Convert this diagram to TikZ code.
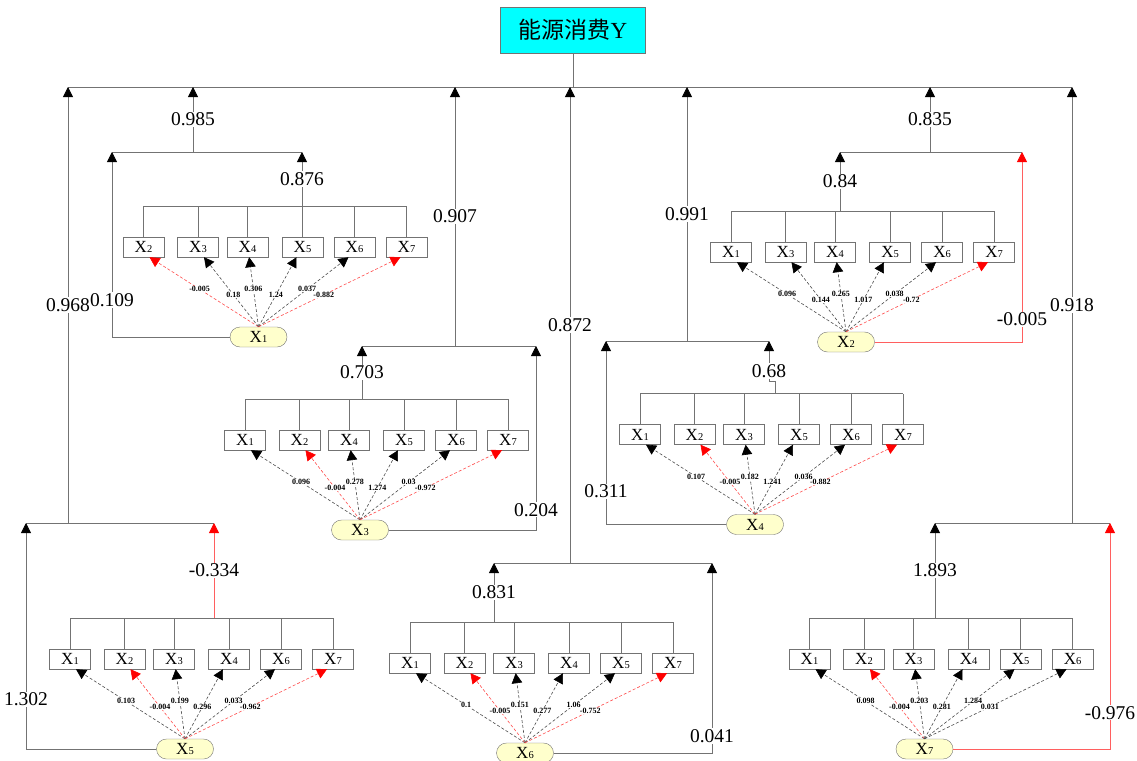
\documentclass[tikz,border=0pt]{standalone}
\usepackage{fontspec}
\setmainfont{Liberation Serif}
\newfontfamily\cjk{Noto Sans CJK SC}
\usetikzlibrary{arrows.meta,shapes.misc}
\definecolor{linegray}{RGB}{115,115,115}
\definecolor{paleyellow}{RGB}{255,255,204}
\definecolor{softred}{RGB}{255,95,95}
\definecolor{aqua}{RGB}{0,255,255}
\newcommand\xv[1]{X{\fontsize{10.5}{10.5}\selectfont #1}}
\tikzset{
  link/.style={draw=linegray, line width=0.8pt},
  feedback/.style={draw=softred, line width=0.8pt},
  arrowup/.style={-{Triangle[length=10pt,width=10pt,color=black]}},
  redarrowup/.style={-{Triangle[length=10pt,width=10pt,color=red]}},
  effect/.style={draw=#1!70, line width=0.6pt, dash pattern=on 3pt off 2pt,
    -{Triangle[length=10pt,width=10.5pt,color=#1]}},
  var/.style={draw=linegray, fill=white, minimum width=41pt, minimum height=20pt,
    inner sep=0pt, font=\fontsize{17}{17}\selectfont},
  src/.style={rounded rectangle, draw=linegray, fill=paleyellow, minimum width=57pt,
    minimum height=20pt, inner sep=0pt, font=\fontsize{17}{17}\selectfont},
  target/.style={draw=linegray, fill=aqua, minimum width=145pt, minimum height=46pt,
    inner sep=0pt, font=\fontsize{23}{23}\selectfont},
  coef/.style={fill=white, inner sep=1pt, font=\fontsize{19.5}{19.5}\selectfont},
  small coef/.style={fill=white, inner sep=0.4pt, font=\fontsize{8}{8}\selectfont\bfseries},
  pics/factors/.style 2 args={code={
    \foreach \idx/\val [count=\k from 0] in {#2} {
      \pgfmathsetmacro\bx{{0,54.5,104,159,211,263}[\k]}
      \node[var] (-b\k) at (\bx,0) {\xv{\idx}};
      \draw[link] (-b\k.north) -- (\bx,-41);
    }
    \draw[link] (0,-41) -- (263,-41);
    \node[src] (-s) at (115,90) {\xv{#1}};
    \foreach \idx/\val [count=\k from 0] in {#2} {
      \pgfmathsetmacro\bx{{0,54.5,104,159,211,263}[\k]}
      \pgfmathsetmacro\xoff{max(-6,min(6,(115-\bx)*0.15))}
      \pgfmathsetmacro\lpos{isodd(\k) ? 0.46 : 0.54}
      \ifdim\val pt<0pt \def\tone{red}\else\def\tone{black}\fi
      \draw[effect=\tone] (-s.north) -- node[small coef, pos=\lpos] {\val} ([xshift=\xoff pt]-b\k.south);
    }
  }}
}

\begin{document}
\begin{tikzpicture}[x=1pt,y=-1pt]
  \useasboundingbox (0,0) rectangle (1137,760);
  % dependent variable and top line
  \node[target] (Y) at (573,30) {{\cjk 能源消费}Y};
  \coordinate (tl) at (68,87);
  \coordinate (tr) at (1072,87);
  \draw[link] (tl) -- (tr);
  \draw[link] (Y.south) -- (Y.south |- tl);

  % factor sets
  \pic (c1) at (143.5,247) {factors={1}{2/-0.005,3/0.18,4/0.306,5/1.24,6/0.037,7/-0.882}};
  \pic (c2) at (731,252) {factors={2}{1/0.096,3/0.144,4/0.265,5/1.017,6/0.038,7/-0.72}};
  \pic (c3) at (245,440) {factors={3}{1/0.096,2/-0.004,4/0.278,5/1.274,6/0.03,7/-0.972}};
  \pic (c4) at (640,434.5) {factors={4}{1/0.107,2/-0.005,3/0.182,5/1.241,6/0.036,7/-0.882}};
  \pic (c5) at (70,659) {factors={5}{1/0.103,2/-0.004,3/0.199,4/0.296,6/0.033,7/-0.962}};
  \pic (c6) at (410,663) {factors={6}{1/0.1,2/-0.005,3/0.151,4/0.277,5/1.06,7/-0.752}};
  \pic (c7) at (809.5,659) {factors={7}{1/0.098,2/-0.004,3/0.203,4/0.281,5/1.284,6/0.031}};

  % junctions
  \coordinate (l1) at (112,152);  \coordinate (m1) at (193,152);  \coordinate (r1) at (302,152);
  \coordinate (l2) at (840,152);  \coordinate (m2) at (930,152);  \coordinate (r2) at (1022,152);
  \coordinate (l3) at (362,346);  \coordinate (m3) at (455,346);  \coordinate (r3) at (536,346);
  \coordinate (l4) at (606,341);  \coordinate (m4) at (687,341);  \coordinate (r4) at (769,341);
  \coordinate (l5) at (26,523);   \coordinate (m5) at (68,523);   \coordinate (r5) at (214,523);
  \coordinate (l6) at (494,563);  \coordinate (m6) at (570,563);  \coordinate (r6) at (712,563);
  \coordinate (l7) at (935,523);  \coordinate (m7) at (1072,523); \coordinate (r7) at (1110,523);
  \coordinate (f1) at (302,206);
  \coordinate (f2) at (840,211);
  \coordinate (f3) at (362,399);
  \coordinate (f4) at (775,393);
  \coordinate (k4) at (769,381);
  \coordinate (f5) at (214,618);
  \coordinate (f6) at (494,622);
  \coordinate (f7) at (935,618);
  \foreach \n in {1,...,7} {
    \draw[link] (l\n) -- (r\n);
  }

  % paths to Y
  \draw[link,arrowup] (m1) -- node[coef] {0.985} (m1 |- tl);
  \draw[link,arrowup] (m2) -- node[coef] {0.835} (m2 |- tl);
  \draw[link,arrowup] (m3) -- node[coef] {0.907} (m3 |- tl);
  \draw[link,arrowup] (m4) -- node[coef] {0.991} (m4 |- tl);
  \draw[link,arrowup] (m5) -- node[coef] {0.968} (m5 |- tl);
  \draw[link,arrowup] (m6) -- node[coef] {0.872} (m6 |- tl);
  \draw[link,arrowup] (m7) -- node[coef] {0.918} (m7 |- tl);

  % direct and indirect paths
  \draw[link,arrowup] (c1-s.west) -| node[coef,pos=0.6] {0.109} (l1);
  \draw[link,arrowup] (f1) -- node[coef] {0.876} (r1);
  \draw[link,arrowup] (f2) -- node[coef] {0.84} (l2);
  \draw[feedback,redarrowup] (c2-s.east) -| node[coef,pos=0.56] {-0.005} (r2);
  \draw[link,arrowup] (f3) -- node[coef] {0.703} (l3);
  \draw[link,arrowup] (c3-s.east) -| node[coef,pos=0.555] {0.204} (r3);
  \draw[link,arrowup] (c4-s.west) -| node[coef,pos=0.59] {0.311} (l4);
  \draw[link,arrowup] (f4) |- (k4) -- node[coef,pos=0.25] {0.68} (r4);
  \draw[link,arrowup] (c5-s.west) -| node[coef,pos=0.61] {1.302} (l5);
  \draw[feedback,redarrowup] (f5) -- node[coef] {-0.334} (r5);
  \draw[link,arrowup] (f6) -- node[coef] {0.831} (l6);
  \draw[link,arrowup] (c6-s.east) -| node[coef,pos=0.545] {0.041} (r6);
  \draw[link,arrowup] (f7) -- node[coef] {1.893} (l7);
  \draw[feedback,redarrowup] (c7-s.east) -| node[coef,pos=0.58] {-0.976} (r7);
\end{tikzpicture}
\end{document}
